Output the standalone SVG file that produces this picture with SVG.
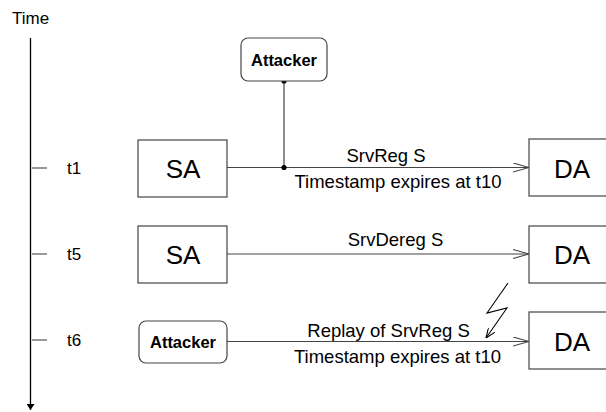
<svg xmlns="http://www.w3.org/2000/svg" width="606" height="412" viewBox="0 0 606 412">
<style>
text{font-family:"Liberation Sans",Arial,sans-serif;fill:#000}
.box{fill:#fff;stroke:#444;stroke-width:1.2}
.big{font-size:26px;text-anchor:middle}
.att{font-size:16.5px;font-weight:bold;text-anchor:middle}
.lbl{font-size:18.5px;text-anchor:middle}
.tl{font-size:17px}
.ln{stroke:#444;stroke-width:1.2;fill:none}
.tick{stroke:#555;stroke-width:1.2}
</style>
<defs>
<marker id="open" viewBox="0 0 16 10" refX="16" refY="5" markerWidth="16" markerHeight="10" markerUnits="userSpaceOnUse" orient="auto">
<path d="M0,0.5 L16,5 L0,9.5" fill="none" stroke="#444" stroke-width="1.2"/>
</marker>
<marker id="fill" viewBox="0 0 6 8" refX="6" refY="4" markerWidth="6" markerHeight="8" markerUnits="userSpaceOnUse" orient="auto">
<path d="M0,0 L6,4 L0,8 Z" fill="#000"/>
</marker>
<marker id="bolt" viewBox="0 0 10 8" refX="10" refY="4" markerWidth="10" markerHeight="8" markerUnits="userSpaceOnUse" orient="auto">
<path d="M0,0 L10,4 L0,8" fill="none" stroke="#000" stroke-width="1.1"/>
</marker>
</defs>
<g id="timeline">
<text class="tl" x="12" y="24" font-size="17">Time</text>
<line x1="30.5" y1="38" x2="30.5" y2="410" stroke="#000" stroke-width="1.3" marker-end="url(#fill)"/>
<line class="tick" x1="32" y1="168" x2="47" y2="168"/>
<line class="tick" x1="32" y1="254" x2="47" y2="254"/>
<line class="tick" x1="32" y1="340" x2="47" y2="340"/>
<text class="tl" x="67" y="174">t1</text>
<text class="tl" x="67" y="260">t5</text>
<text class="tl" x="67" y="346">t6</text>
</g>
<g id="connectors">
<line class="ln" x1="227" y1="167.5" x2="529" y2="167.5" marker-end="url(#open)"/>
<line class="ln" x1="227" y1="254" x2="529" y2="254" marker-end="url(#open)"/>
<line class="ln" x1="227" y1="341.5" x2="529" y2="341.5" marker-end="url(#open)"/>
<line class="ln" x1="284" y1="81" x2="284" y2="167.5"/>
<circle cx="284" cy="81" r="2.6" fill="#000"/>
<circle cx="284" cy="167.5" r="2.6" fill="#000"/>
<polyline points="508,283 487,313 507,308 486,338" fill="none" stroke="#000" stroke-width="1.1" marker-end="url(#bolt)"/>
<text class="lbl" x="386" y="161.5">SrvReg S</text>
<text class="lbl" x="398" y="188">Timestamp expires at t10</text>
<text class="lbl" x="395.5" y="246">SrvDereg S</text>
<text class="lbl" x="388.5" y="336.5">Replay of SrvReg S</text>
<text class="lbl" x="397.5" y="363">Timestamp expires at t10</text>
</g>
<g id="attacker-top">
<rect class="box" x="241" y="38" width="86" height="43" rx="7"/>
<text class="att" x="284" y="66">Attacker</text>
</g>
<g id="sa1">
<rect class="box" x="138" y="140" width="89" height="57"/>
<text class="big" x="183" y="178">SA</text>
</g>
<g id="da1">
<rect class="box" x="529" y="139" width="89" height="57"/>
<text class="big" x="572" y="178">DA</text>
</g>
<g id="sa2">
<rect class="box" x="138" y="226" width="89" height="57"/>
<text class="big" x="183" y="264">SA</text>
</g>
<g id="da2">
<rect class="box" x="529" y="226" width="89" height="57"/>
<text class="big" x="572" y="264">DA</text>
</g>
<g id="attacker-bottom">
<rect class="box" x="139" y="321" width="88" height="42" rx="7"/>
<text class="att" x="183" y="348">Attacker</text>
</g>
<g id="da3">
<rect class="box" x="529" y="312" width="89" height="57"/>
<text class="big" x="572" y="351">DA</text>
</g>
</svg>
